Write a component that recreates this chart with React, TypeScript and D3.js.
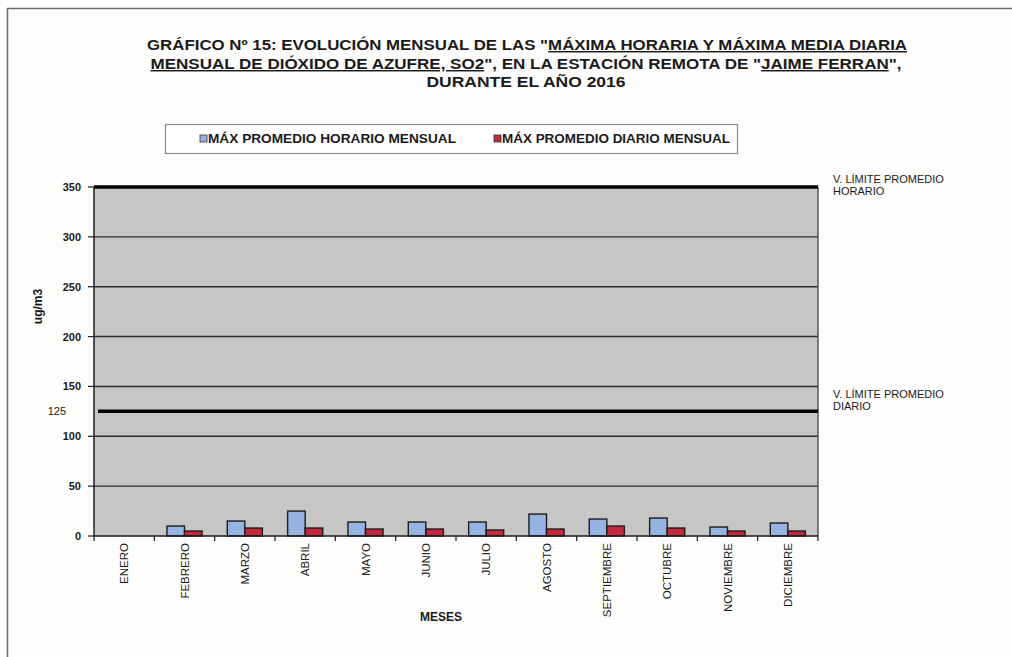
import * as d3 from 'd3';

const MONTHS = ['ENERO', 'FEBRERO', 'MARZO', 'ABRIL', 'MAYO', 'JUNIO', 'JULIO', 'AGOSTO', 'SEPTIEMBRE', 'OCTUBRE', 'NOVIEMBRE', 'DICIEMBRE'];
const MAX_HORARIO: (number | null)[] = [null, 10, 15, 25, 14, 14, 14, 22, 17, 18, 9, 13];
const MAX_DIARIO: (number | null)[] = [null, 5, 8, 8, 7, 7, 6, 7, 10, 8, 5, 5];
const Y_TICKS = [0, 50, 100, 150, 200, 250, 300, 350];
const LIMITE_HORARIO = 350;
const LIMITE_DIARIO = 125;

const SERIES = [
  { key: 'horario', label: 'MÁX PROMEDIO HORARIO MENSUAL', values: MAX_HORARIO, color: '#94b4e4' },
  { key: 'diario', label: 'MÁX PROMEDIO DIARIO MENSUAL', values: MAX_DIARIO, color: '#c4283c' },
];

const FONT = '"Liberation Sans", Arial, sans-serif';
const INK = '#1a1a1a';

export default function App() {
  const left = 94;
  const right = 818;
  const top = 187;
  const bottom = 536;

  const x = d3.scaleBand<string>().domain(MONTHS).range([left, right]).padding(0);
  const x1 = d3
    .scaleBand<string>()
    .domain(SERIES.map((s) => s.key))
    .range([0, x.bandwidth()])
    .paddingInner(0)
    .paddingOuter(0.72);
  const y = d3.scaleLinear().domain([0, 350]).range([bottom, top]);

  return (
    <svg
      width={1012}
      height={657}
      viewBox="0 0 1012 657"
      style={{ position: 'absolute', left: 0, top: 0, background: '#fdfdfb' }}
      fontFamily={FONT}
    >
      {/* scan border, only top and left survive */}
      <line x1={7} x2={1012} y1={8.5} y2={8.5} stroke="#6b6b6b" strokeWidth={1.5} />
      <line x1={7.5} x2={7.5} y1={8} y2={657} stroke="#6b6b6b" strokeWidth={1.5} />

      {/* title */}
      <g fontWeight={700} fontSize={14.5} fill={INK} textAnchor="middle">
        <text x={527} y={50} textLength={760} lengthAdjust="spacingAndGlyphs">
          GRÁFICO Nº 15: EVOLUCIÓN  MENSUAL DE LAS "
          <tspan textDecoration="underline">MÁXIMA HORARIA Y MÁXIMA MEDIA DIARIA</tspan>
        </text>
        <text x={526} y={69} textLength={751} lengthAdjust="spacingAndGlyphs">
          <tspan textDecoration="underline">MENSUAL DE DIÓXIDO DE AZUFRE, SO2</tspan>", EN LA ESTACIÓN REMOTA DE "
          <tspan textDecoration="underline">JAIME FERRAN</tspan>",
        </text>
        <text x={526} y={87} textLength={199} lengthAdjust="spacingAndGlyphs">
          DURANTE  EL AÑO 2016
        </text>
      </g>

      {/* legend */}
      <rect x={165.5} y={124.5} width={572} height={29} fill="#fff" stroke="#8a8a8a" strokeWidth={1.2} />
      <rect x={200} y={135} width={7} height={7} fill={SERIES[0].color} stroke="#333" strokeWidth={0.8} />
      <text x={208} y={143} fontSize={12} fontWeight={700} fill={INK} textLength={248} lengthAdjust="spacingAndGlyphs">
        {SERIES[0].label}
      </text>
      <rect x={494} y={135} width={7} height={7} fill={SERIES[1].color} stroke="#333" strokeWidth={0.8} />
      <text x={502} y={143} fontSize={12} fontWeight={700} fill={INK} textLength={228} lengthAdjust="spacingAndGlyphs">
        {SERIES[1].label}
      </text>

      {/* plot area */}
      <rect x={left} y={top} width={right - left} height={bottom - top} fill="#c6c6c4" />
      {Y_TICKS.filter((t) => t > 0 && t < 350).map((t) => (
        <line key={t} x1={left} x2={right} y1={y(t)} y2={y(t)} stroke="#2a2a2a" strokeWidth={1.4} />
      ))}
      <line x1={right} x2={right} y1={top} y2={bottom} stroke="#555" strokeWidth={1.5} />

      {/* limit lines */}
      <line x1={left} x2={right} y1={y(LIMITE_HORARIO)} y2={y(LIMITE_HORARIO)} stroke="#000" strokeWidth={3.5} />
      <line x1={left + 4} x2={right} y1={y(LIMITE_DIARIO)} y2={y(LIMITE_DIARIO)} stroke="#000" strokeWidth={3.5} />
      <text x={66} y={y(LIMITE_DIARIO) + 4} fontSize={11} fill={INK} textAnchor="end">
        {LIMITE_DIARIO}
      </text>
      <g fontSize={11} fill={INK}>
        <text x={833} y={183}>V. LÍMITE PROMEDIO</text>
        <text x={833} y={195}>HORARIO</text>
        <text x={833} y={398}>V. LÍMITE PROMEDIO</text>
        <text x={833} y={410}>DIARIO</text>
      </g>

      {/* bars */}
      {SERIES.map((s) =>
        MONTHS.map((m, i) => {
          const v = s.values[i];
          if (v == null) return null;
          return (
            <rect
              key={s.key + m}
              x={(x(m) ?? 0) + (x1(s.key) ?? 0)}
              y={y(v)}
              width={x1.bandwidth()}
              height={y(0) - y(v)}
              fill={s.color}
              stroke="#1c1c1c"
              strokeWidth={1.4}
            />
          );
        }),
      )}

      {/* y axis */}
      <line x1={left} x2={left} y1={top} y2={bottom} stroke="#1c1c1c" strokeWidth={1.5} />
      {Y_TICKS.map((t) => (
        <g key={t}>
          <line x1={left - 6} x2={left} y1={y(t)} y2={y(t)} stroke="#1c1c1c" strokeWidth={1.2} />
          <text x={81} y={y(t) + 4} fontSize={11} fontWeight={700} fill={INK} textAnchor="end">
            {t}
          </text>
        </g>
      ))}
      <text
        transform={`translate(42,${(top + bottom) / 2 - 55}) rotate(-90)`}
        fontSize={12}
        fontWeight={700}
        fill={INK}
        textAnchor="middle"
      >
        ug/m3
      </text>

      {/* x axis */}
      <line x1={left} x2={right} y1={bottom} y2={bottom} stroke="#1c1c1c" strokeWidth={1.5} />
      {MONTHS.map((m) => (
        <line key={'t' + m} x1={x(m) ?? 0} x2={x(m) ?? 0} y1={bottom} y2={bottom + 5} stroke="#1c1c1c" strokeWidth={1.2} />
      ))}
      <line x1={right} x2={right} y1={bottom} y2={bottom + 5} stroke="#1c1c1c" strokeWidth={1.2} />
      {MONTHS.map((m) => (
        <text
          key={'l' + m}
          transform={`translate(${(x(m) ?? 0) + x.bandwidth() / 2 + 4},${bottom + 7}) rotate(-90)`}
          fontSize={11.5}
          fill={INK}
          textAnchor="end"
        >
          {m}
        </text>
      ))}
      <text x={441} y={621} fontSize={12} fontWeight={700} fill={INK} textAnchor="middle">
        MESES
      </text>
    </svg>
  );
}
